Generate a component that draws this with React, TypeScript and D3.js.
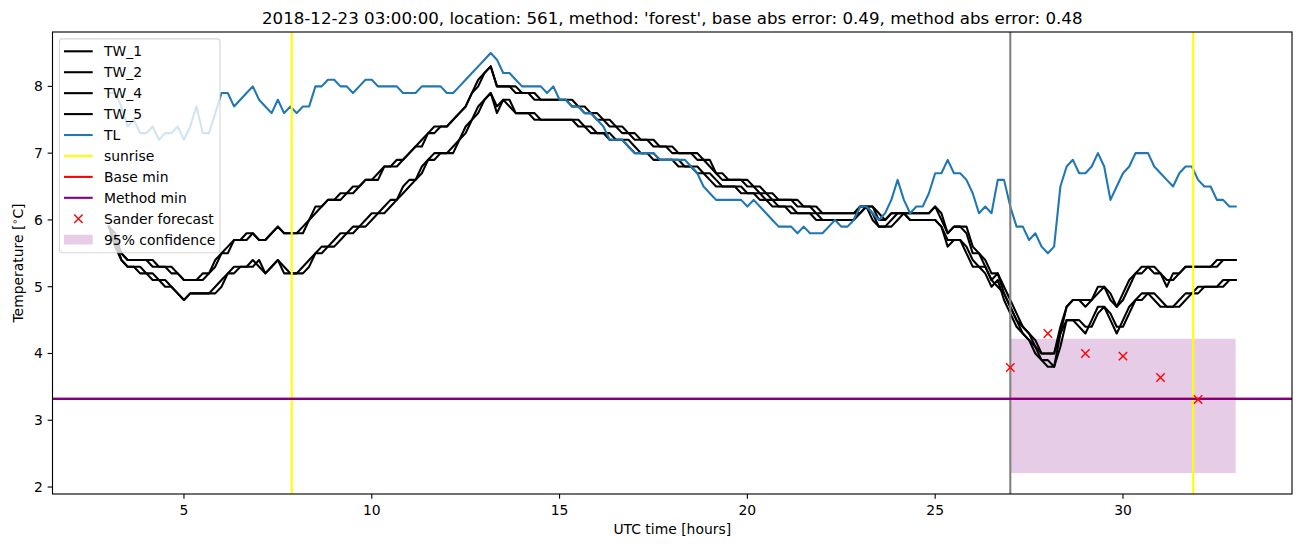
import React from "react";
import * as d3 from "d3";

const W = 1302;
const H = 547;
const plot = { left: 52.5, right: 1292, top: 32, bottom: 494 };
const FONT = "DejaVu Sans, sans-serif";

// samples every 10 minutes, from 03:00 to 33:00 (hours since the day start)
const startHour = 3;
const stepMinutes = 10;

// one row per hour: :00 :10 :20 :30 :40 :50
const tw1 = [
  5.9, 5.7, 5.5, 5.4, 5.4, 5.4,
  5.4, 5.3, 5.3, 5.3, 5.2, 5.2,
  5.1, 5.1, 5.1, 5.2, 5.2, 5.4,
  5.5, 5.6, 5.7, 5.7, 5.8, 5.8,
  5.7, 5.7, 5.8, 5.9, 5.8, 5.8,
  5.8, 5.9, 6.0, 6.2, 6.2, 6.3,
  6.3, 6.4, 6.4, 6.5, 6.5, 6.6,
  6.6, 6.7, 6.8, 6.8, 6.9, 6.9,
  7.0, 7.1, 7.2, 7.3, 7.4, 7.4,
  7.4, 7.5, 7.6, 7.7, 7.9, 8.1,
  8.2, 8.3, 8.0, 8.0, 8.0, 7.9,
  7.9, 7.9, 7.8, 7.8, 7.8, 7.8,
  7.8, 7.8, 7.7, 7.7, 7.6, 7.6,
  7.5, 7.5, 7.4, 7.4, 7.3, 7.3,
  7.2, 7.2, 7.2, 7.1, 7.1, 7.1,
  7.0, 7.0, 7.0, 7.0, 6.9, 6.9,
  6.8, 6.7, 6.6, 6.6, 6.6, 6.6,
  6.5, 6.5, 6.4, 6.4, 6.3, 6.3,
  6.3, 6.3, 6.2, 6.2, 6.2, 6.1,
  6.1, 6.1, 6.1, 6.1, 6.1, 6.1,
  6.2, 6.2, 6.2, 6.0, 6.0, 6.1,
  6.1, 6.1, 6.1, 6.1, 6.1, 6.1,
  6.2, 6.0, 5.8, 5.9, 5.9, 5.8,
  5.5, 5.5, 5.3, 5.1, 5.2, 4.9,
  4.7, 4.5, 4.4, 4.3, 4.1, 4.0,
  4.0, 4.0, 4.4, 4.7, 4.8, 4.8,
  4.7, 4.8, 5.0, 5.0, 4.8, 4.7,
  4.9, 5.1, 5.2, 5.3, 5.3, 5.2,
  5.2, 5.0, 5.2, 5.2, 5.3, 5.3,
  5.3, 5.3, 5.3, 5.4, 5.4, 5.4,
  5.4,
];

const tw2 = [
  5.9, 5.8, 5.5, 5.4, 5.4, 5.4,
  5.4, 5.4, 5.3, 5.3, 5.3, 5.2,
  5.1, 5.1, 5.1, 5.1, 5.2, 5.3,
  5.5, 5.5, 5.7, 5.7, 5.7, 5.8,
  5.7, 5.7, 5.8, 5.9, 5.8, 5.8,
  5.8, 5.8, 6.0, 6.1, 6.2, 6.3,
  6.3, 6.3, 6.4, 6.4, 6.5, 6.6,
  6.6, 6.6, 6.8, 6.8, 6.8, 6.9,
  7.0, 7.1, 7.1, 7.3, 7.3, 7.4,
  7.4, 7.5, 7.6, 7.7, 7.9, 8.0,
  8.2, 8.3, 8.0, 8.0, 8.0, 8.0,
  7.9, 7.9, 7.9, 7.8, 7.8, 7.8,
  7.8, 7.8, 7.8, 7.7, 7.7, 7.6,
  7.6, 7.5, 7.5, 7.4, 7.4, 7.3,
  7.3, 7.2, 7.2, 7.2, 7.1, 7.1,
  7.1, 7.0, 7.0, 7.0, 7.0, 6.9,
  6.9, 6.7, 6.7, 6.6, 6.6, 6.6,
  6.6, 6.5, 6.5, 6.4, 6.4, 6.3,
  6.3, 6.3, 6.3, 6.2, 6.2, 6.2,
  6.1, 6.1, 6.1, 6.1, 6.1, 6.1,
  6.1, 6.2, 6.2, 6.1, 6.0, 6.1,
  6.1, 6.1, 6.1, 6.1, 6.1, 6.1,
  6.2, 6.1, 5.8, 5.9, 5.9, 5.9,
  5.6, 5.5, 5.4, 5.2, 5.2, 5.0,
  4.8, 4.6, 4.4, 4.3, 4.2, 4.0,
  4.0, 4.0, 4.3, 4.7, 4.8, 4.8,
  4.8, 4.8, 4.9, 5.0, 4.9, 4.7,
  4.8, 5.0, 5.2, 5.2, 5.3, 5.3,
  5.2, 5.1, 5.1, 5.2, 5.3, 5.3,
  5.3, 5.3, 5.3, 5.3, 5.4, 5.4,
  5.4,
];

const tw4 = [
  5.9, 5.6, 5.4, 5.3, 5.3, 5.2,
  5.2, 5.1, 5.1, 5.0, 5.0, 4.9,
  4.8, 4.9, 4.9, 4.9, 4.9, 5.0,
  5.1, 5.2, 5.3, 5.3, 5.3, 5.4,
  5.3, 5.2, 5.3, 5.4, 5.2, 5.2,
  5.2, 5.3, 5.4, 5.5, 5.6, 5.6,
  5.7, 5.8, 5.8, 5.9, 5.9, 6.0,
  6.1, 6.1, 6.2, 6.3, 6.3, 6.5,
  6.6, 6.6, 6.8, 6.9, 7.0, 7.0,
  7.0, 7.1, 7.2, 7.4, 7.5, 7.7,
  7.8, 7.9, 7.6, 7.8, 7.8, 7.6,
  7.6, 7.6, 7.5, 7.5, 7.5, 7.5,
  7.5, 7.5, 7.5, 7.4, 7.4, 7.3,
  7.3, 7.3, 7.2, 7.2, 7.2, 7.1,
  7.0, 7.0, 7.0, 6.9, 6.9, 6.9,
  6.9, 6.8, 6.8, 6.8, 6.7, 6.7,
  6.6, 6.5, 6.5, 6.5, 6.5, 6.4,
  6.4, 6.4, 6.3, 6.3, 6.2, 6.2,
  6.2, 6.1, 6.1, 6.1, 6.1, 6.0,
  6.0, 6.0, 6.0, 6.0, 6.0, 6.0,
  6.2, 6.2, 6.0, 5.9, 5.9, 6.0,
  6.1, 6.1, 6.0, 6.0, 6.0, 6.0,
  6.0, 5.9, 5.6, 5.7, 5.7, 5.5,
  5.3, 5.3, 5.2, 5.0, 5.1, 4.8,
  4.6, 4.4, 4.3, 4.2, 4.0, 3.9,
  3.8, 3.8, 4.3, 4.5, 4.5, 4.4,
  4.3, 4.5, 4.7, 4.7, 4.5, 4.3,
  4.5, 4.7, 4.8, 4.9, 4.9, 4.8,
  4.7, 4.7, 4.7, 4.8, 4.9, 4.9,
  5.0, 5.0, 5.0, 5.0, 5.1, 5.1,
  5.1,
];

const tw5 = [
  5.9, 5.7, 5.4, 5.3, 5.3, 5.3,
  5.2, 5.2, 5.1, 5.1, 5.0, 4.9,
  4.8, 4.9, 4.9, 4.9, 4.9, 4.9,
  5.0, 5.2, 5.2, 5.3, 5.3, 5.3,
  5.4, 5.2, 5.3, 5.4, 5.3, 5.2,
  5.2, 5.2, 5.3, 5.5, 5.5, 5.6,
  5.6, 5.7, 5.8, 5.8, 5.9, 5.9,
  6.0, 6.1, 6.1, 6.2, 6.3, 6.4,
  6.5, 6.6, 6.7, 6.9, 6.9, 7.0,
  7.0, 7.0, 7.2, 7.3, 7.5, 7.6,
  7.8, 7.9, 7.7, 7.8, 7.7, 7.6,
  7.6, 7.6, 7.6, 7.5, 7.5, 7.5,
  7.5, 7.5, 7.5, 7.5, 7.4, 7.4,
  7.3, 7.3, 7.3, 7.2, 7.2, 7.2,
  7.1, 7.0, 7.0, 7.0, 6.9, 6.9,
  6.9, 6.9, 6.8, 6.8, 6.8, 6.7,
  6.7, 6.6, 6.5, 6.5, 6.5, 6.5,
  6.4, 6.4, 6.4, 6.3, 6.3, 6.2,
  6.2, 6.2, 6.1, 6.1, 6.1, 6.1,
  6.0, 6.0, 6.0, 6.0, 6.0, 6.0,
  6.1, 6.2, 6.1, 5.9, 5.9, 5.9,
  6.0, 6.1, 6.0, 6.0, 6.0, 6.0,
  6.0, 5.9, 5.7, 5.7, 5.7, 5.6,
  5.4, 5.3, 5.3, 5.1, 5.0, 4.9,
  4.7, 4.5, 4.3, 4.2, 4.1, 3.9,
  3.9, 3.8, 4.1, 4.5, 4.5, 4.5,
  4.4, 4.4, 4.6, 4.7, 4.6, 4.4,
  4.4, 4.6, 4.8, 4.8, 4.9, 4.9,
  4.8, 4.7, 4.7, 4.7, 4.8, 4.9,
  4.9, 5.0, 5.0, 5.0, 5.0, 5.1,
  5.1,
];

const tl = [
  7.9, 7.9, 7.7, 7.4, 7.5, 7.3,
  7.3, 7.4, 7.2, 7.3, 7.3, 7.4,
  7.2, 7.4, 7.7, 7.3, 7.3, 7.6,
  7.9, 7.9, 7.7, 7.8, 7.9, 8.0,
  7.8, 7.7, 7.6, 7.8, 7.6, 7.7,
  7.6, 7.7, 7.7, 8.0, 8.0, 8.1,
  8.1, 8.0, 8.0, 7.9, 8.0, 8.1,
  8.1, 8.0, 8.0, 8.0, 8.0, 7.9,
  7.9, 7.9, 8.0, 8.0, 8.0, 8.0,
  7.9, 7.9, 8.0, 8.1, 8.2, 8.3,
  8.4, 8.5, 8.4, 8.2, 8.2, 8.1,
  8.0, 8.0, 8.0, 8.0, 7.9, 8.0,
  7.8, 7.8, 7.7, 7.7, 7.6, 7.6,
  7.5, 7.4, 7.2, 7.2, 7.2, 7.1,
  7.0, 7.0, 7.0, 7.0, 6.9, 6.9,
  6.9, 6.9, 6.9, 6.8, 6.7, 6.5,
  6.4, 6.3, 6.3, 6.3, 6.3, 6.3,
  6.2, 6.3, 6.2, 6.1, 6.0, 5.9,
  5.9, 5.9, 5.8, 5.9, 5.8, 5.8,
  5.8, 5.9, 6.0, 5.9, 5.9, 6.0,
  6.2, 6.2, 6.1, 6.0, 6.1, 6.3,
  6.6, 6.3, 6.1, 6.2, 6.2, 6.4,
  6.7, 6.7, 6.9, 6.7, 6.7, 6.6,
  6.4, 6.1, 6.2, 6.1, 6.6, 6.6,
  6.2, 5.9, 5.9, 5.7, 5.8, 5.6,
  5.5, 5.6, 6.5, 6.8, 6.9, 6.7,
  6.7, 6.8, 7.0, 6.8, 6.3, 6.5,
  6.7, 6.8, 7.0, 7.0, 7.0, 6.8,
  6.7, 6.6, 6.5, 6.7, 6.8, 6.8,
  6.6, 6.5, 6.5, 6.3, 6.3, 6.2,
  6.2,
];

const sunriseHours = [7.87, 31.87];
const forecastStartHour = 27;
const baseMin = 3.32;
const methodMin = 3.32;
const forecastHours = [27, 28, 29, 30, 31, 32];
const forecastTemps = [3.79, 4.3, 4.0, 3.96, 3.64, 3.31];
const confidenceHours = [27, 33];
const confidenceTemps = [2.21, 4.22];
const xTicks = [5, 10, 15, 20, 25, 30];
const yTicks = [2, 3, 4, 5, 6, 7, 8];
const title =
  "2018-12-23 03:00:00, location: 561, method: 'forest', base abs error: 0.49, method abs error: 0.48";

const BLUE = "#1f77b4";
const lineSeries = [
  { name: "TW_1", values: tw1, color: "black" },
  { name: "TW_2", values: tw2, color: "black" },
  { name: "TW_4", values: tw4, color: "black" },
  { name: "TW_5", values: tw5, color: "black" },
  { name: "TL", values: tl, color: BLUE },
];

const times = tw1.map((_, i) => startHour + (i * stepMinutes) / 60);

// matplotlib style auto limits: 5% margin each side
function padded(lo: number, hi: number): [number, number] {
  const m = (hi - lo) * 0.05;
  return [lo - m, hi + m];
}

const LW = 2.08; // 1.5pt at 100 dpi
const FS = 13.9; // 10pt

const xMarker = (cx: number, cy: number, key?: any) => (
  <path
    key={key}
    d={`M${cx - 4.2},${cy - 4.2}L${cx + 4.2},${cy + 4.2}M${cx - 4.2},${cy + 4.2}L${cx + 4.2},${cy - 4.2}`}
    stroke="red"
    strokeWidth={1.4}
    fill="none"
  />
);

const Legend = () => {
  const items = [
    ...lineSeries.map((s) => ({ label: s.name, kind: "line", color: s.color })),
    { label: "sunrise", kind: "line", color: "yellow" },
    { label: "Base min", kind: "line", color: "red" },
    { label: "Method min", kind: "line", color: "purple" },
    { label: "Sander forecast", kind: "marker", color: "red" },
    { label: "95% confidence", kind: "patch", color: "purple" },
  ];
  const bx = 59.4;
  const by = 38.9;
  const rowStep = 20.93;
  const firstRow = 51.3;
  return (
    <g>
      <rect
        x={bx}
        y={by}
        width={160.6}
        height={213.8}
        rx={3}
        fill="white"
        fillOpacity={0.8}
        stroke="#cccccc"
        strokeOpacity={0.8}
        strokeWidth={1.1}
      />
      {items.map((it, i) => {
        const cy = firstRow + i * rowStep;
        return (
          <g key={it.label}>
            {it.kind === "line" && (
              <line x1={64} x2={92.7} y1={cy} y2={cy} stroke={it.color} strokeWidth={LW} />
            )}
            {it.kind === "marker" && xMarker(78.4, cy)}
            {it.kind === "patch" && (
              <rect x={64} y={cy - 4.9} width={28.7} height={9.7} fill={it.color} fillOpacity={0.2} />
            )}
            <text x={104} y={cy} dy="0.36em" fontSize={FS} fontFamily={FONT} fill="black">
              {it.label}
            </text>
          </g>
        );
      })}
    </g>
  );
};

export default function App() {
  const allTemps = [
    ...lineSeries.flatMap((s) => s.values),
    ...confidenceTemps,
    ...forecastTemps,
  ];
  const x = d3
    .scaleLinear()
    .domain(padded(d3.min(times) as number, d3.max(times) as number))
    .range([plot.left, plot.right]);
  const y = d3
    .scaleLinear()
    .domain(padded(d3.min(allTemps) as number, d3.max(allTemps) as number))
    .range([plot.bottom, plot.top]);

  const line = d3
    .line<number>()
    .x((_, i) => x(times[i]))
    .y((d) => y(d));

  const midX = (plot.left + plot.right) / 2;
  const midY = (plot.top + plot.bottom) / 2;

  return (
    <svg
      width={W}
      height={H}
      style={{ position: "absolute", left: 0, top: 0, background: "white" }}
      fontFamily={FONT}
    >
      <defs>
        <clipPath id="axes-clip">
          <rect x={plot.left} y={plot.top} width={plot.right - plot.left} height={plot.bottom - plot.top} />
        </clipPath>
      </defs>
      <rect x={0} y={0} width={W} height={H} fill="white" />

      <g clipPath="url(#axes-clip)">
        <rect
          x={x(confidenceHours[0])}
          y={y(confidenceTemps[1])}
          width={x(confidenceHours[1]) - x(confidenceHours[0])}
          height={y(confidenceTemps[0]) - y(confidenceTemps[1])}
          fill="purple"
          fillOpacity={0.2}
        />
        {lineSeries.map((s) => (
          <path
            key={s.name}
            d={line(s.values) || ""}
            fill="none"
            stroke={s.color}
            strokeWidth={LW}
            strokeLinejoin="round"
            strokeLinecap="square"
          />
        ))}
        <line
          x1={x(forecastStartHour)}
          x2={x(forecastStartHour)}
          y1={plot.top}
          y2={plot.bottom}
          stroke="grey"
          strokeWidth={LW}
        />
        {sunriseHours.map((h) => (
          <line key={h} x1={x(h)} x2={x(h)} y1={plot.top} y2={plot.bottom} stroke="yellow" strokeWidth={LW} />
        ))}
        <line x1={plot.left} x2={plot.right} y1={y(baseMin)} y2={y(baseMin)} stroke="red" strokeWidth={LW} />
        <line x1={plot.left} x2={plot.right} y1={y(methodMin)} y2={y(methodMin)} stroke="purple" strokeWidth={LW} />
        {forecastHours.map((h, i) => xMarker(x(h), y(forecastTemps[i]), h))}
      </g>

      {/* spines */}
      <rect
        x={plot.left}
        y={plot.top}
        width={plot.right - plot.left}
        height={plot.bottom - plot.top}
        fill="none"
        stroke="black"
        strokeWidth={1.11}
      />

      {xTicks.map((t) => (
        <g key={t}>
          <line x1={x(t)} x2={x(t)} y1={plot.bottom} y2={plot.bottom + 4.86} stroke="black" strokeWidth={1.11} />
          <text x={x(t)} y={plot.bottom + 9.7} dy="0.8em" textAnchor="middle" fontSize={FS}>
            {t}
          </text>
        </g>
      ))}
      {yTicks.map((t) => (
        <g key={t}>
          <line x1={plot.left - 4.86} x2={plot.left} y1={y(t)} y2={y(t)} stroke="black" strokeWidth={1.11} />
          <text x={plot.left - 9.7} y={y(t)} dy="0.36em" textAnchor="end" fontSize={FS}>
            {t}
          </text>
        </g>
      ))}

      <text x={midX} y={534} textAnchor="middle" fontSize={FS}>
        UTC time [hours]
      </text>
      <text transform={`translate(23,${midY}) rotate(-90)`} textAnchor="middle" fontSize={FS}>
        Temperature [
        <tspan fontSize={FS * 0.7} dy={-5}>
          ∘
        </tspan>
        <tspan dy={5}>C]</tspan>
      </text>

      <text x={midX} y={24} textAnchor="middle" fontSize={16.67}>
        {title}
      </text>

      <Legend />
    </svg>
  );
}
